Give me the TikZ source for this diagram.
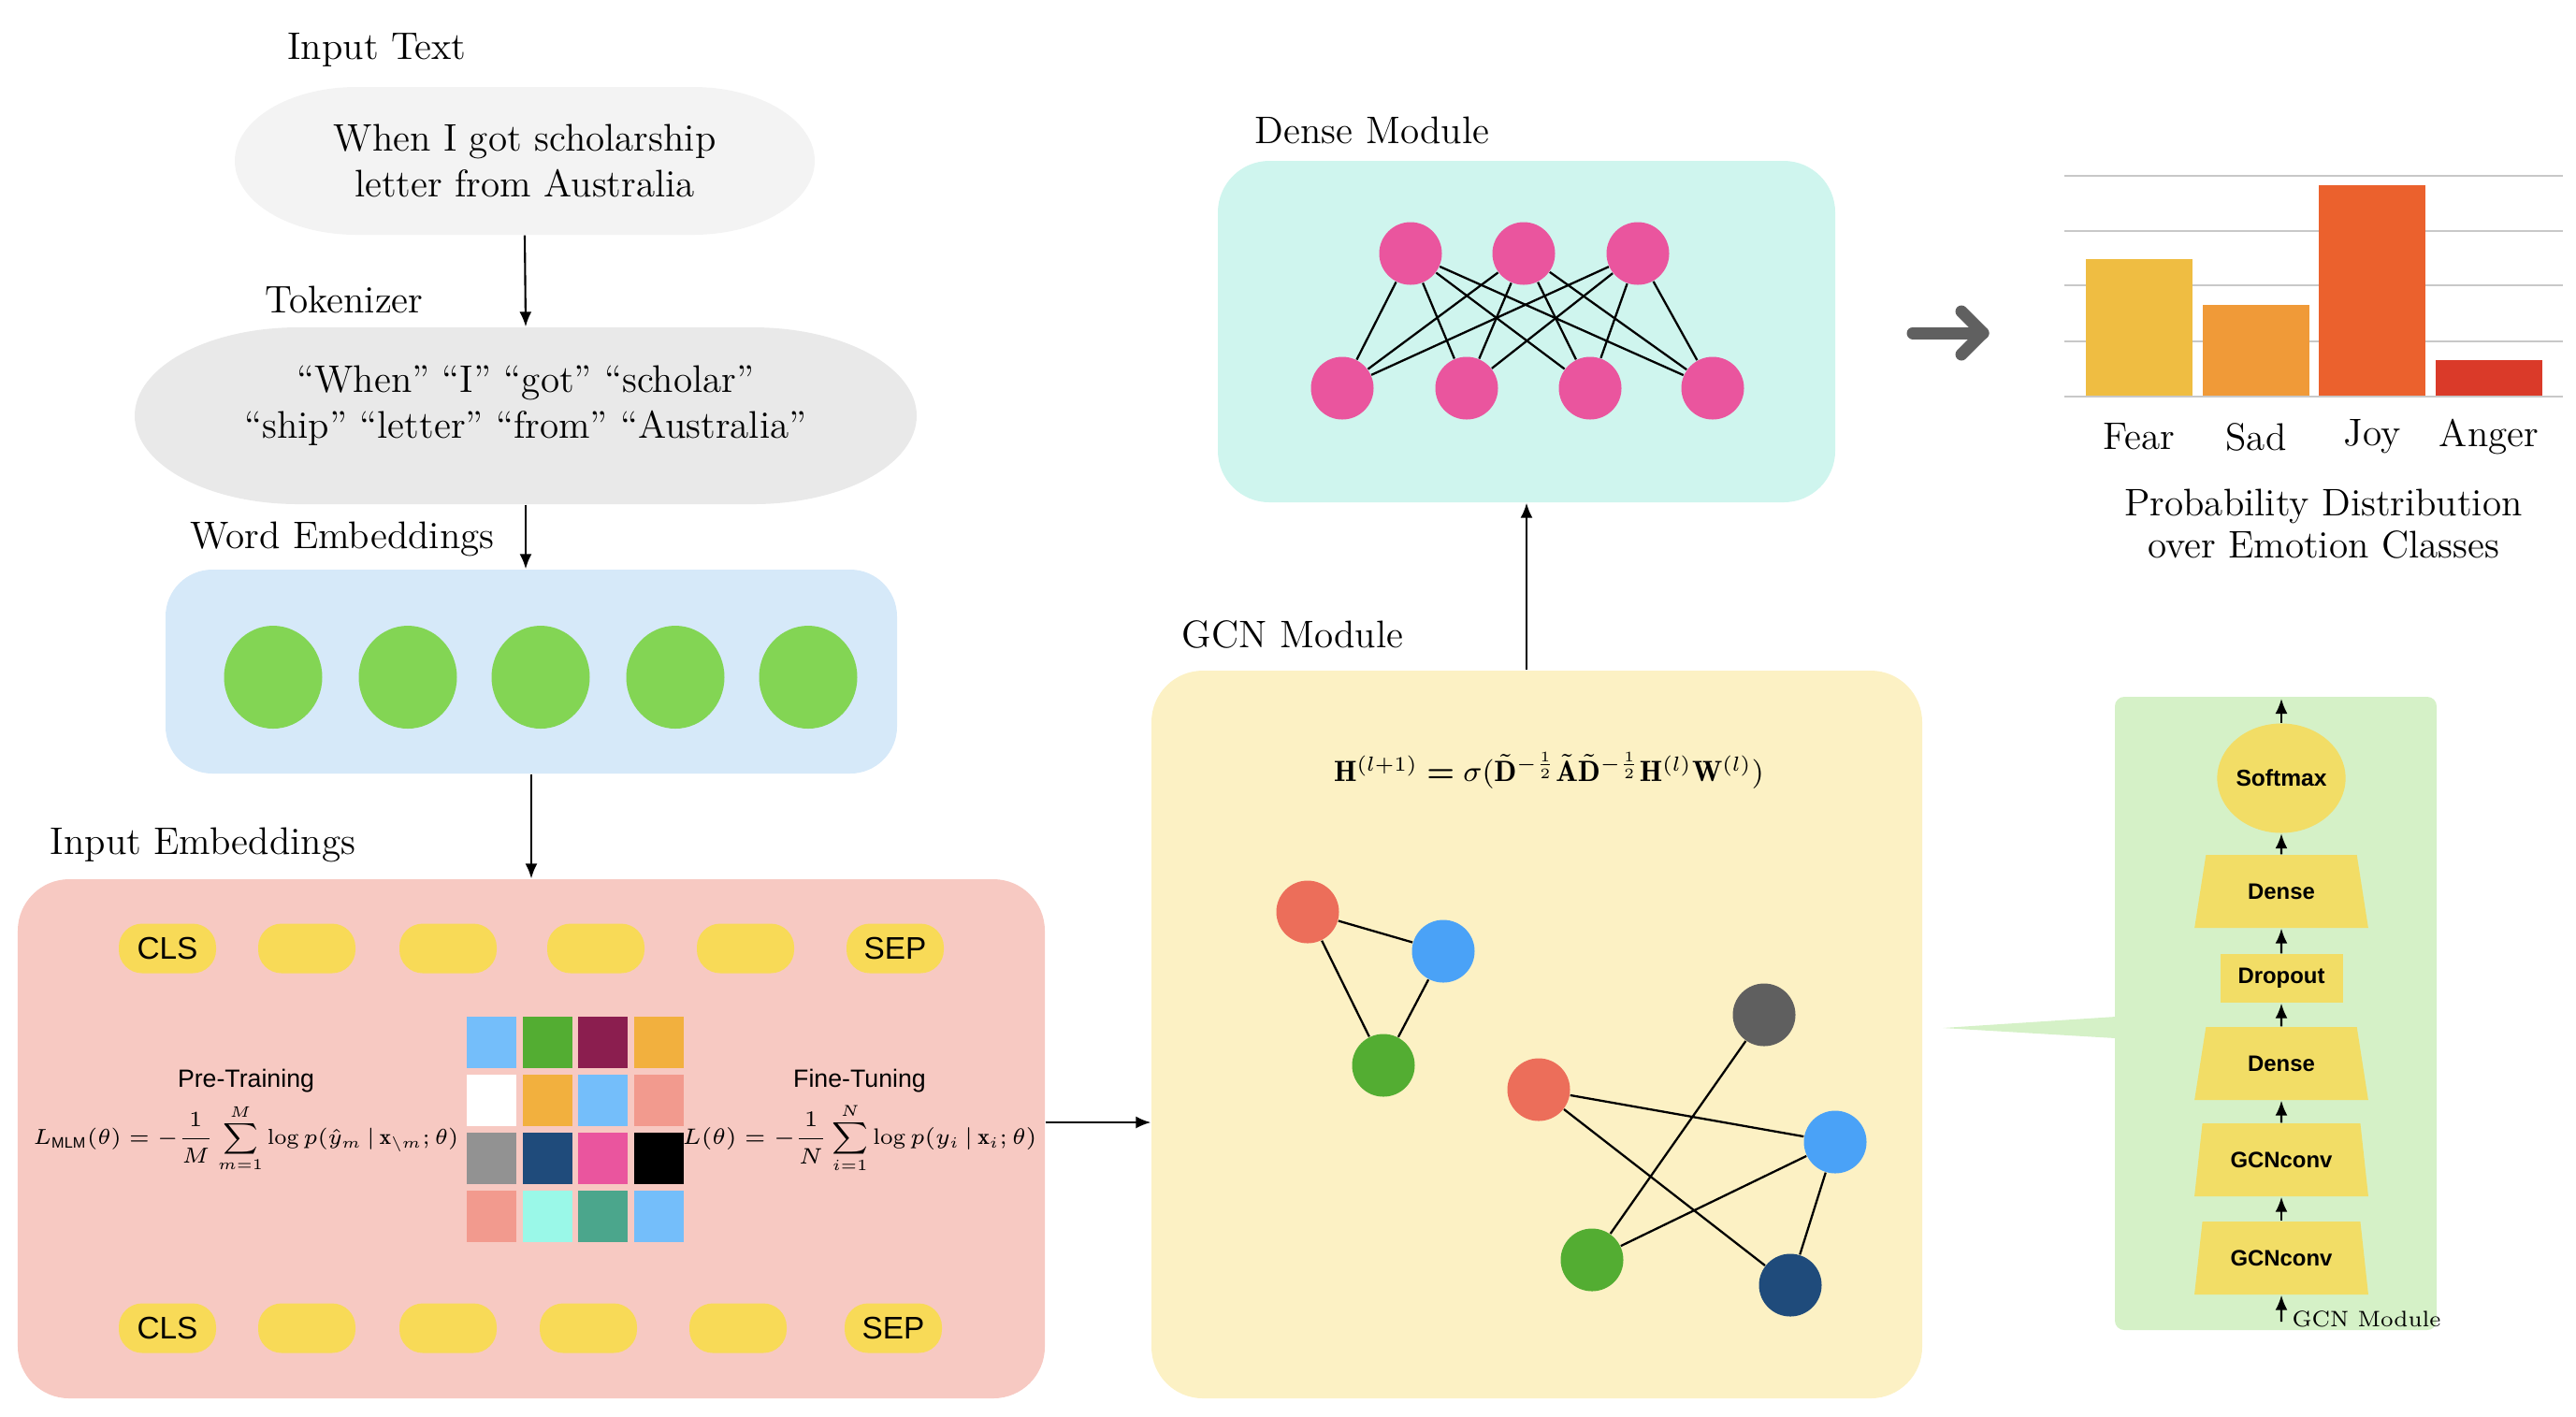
\RequirePackage{fix-cm}
\documentclass[tikz,border=0pt]{standalone}
\usepackage{amsmath}
\usepackage{fontspec}
\setsansfont{Liberation Sans}
\usetikzlibrary{positioning,shapes.geometric,arrows.meta}

\definecolor{intextgray}{HTML}{F3F3F3}
\definecolor{tokgray}{HTML}{E9E9E9}
\definecolor{weblue}{HTML}{D6E9F9}
\definecolor{wegreen}{HTML}{83D554}
\definecolor{iepink}{HTML}{F7C9C2}
\definecolor{tokyellow}{HTML}{F8DA57}
\definecolor{gcnyellow}{HTML}{FCF1C4}
\definecolor{densecyan}{HTML}{CFF5EE}
\definecolor{densepink}{HTML}{EA559E}
\definecolor{panelgreen}{HTML}{D5F1C7}
\definecolor{layeryellow}{HTML}{F2DD66}
\definecolor{arrowgray}{HTML}{606060}
\definecolor{gridgray}{HTML}{C8C8C8}
\definecolor{fearcol}{HTML}{EFBD42}
\definecolor{sadcol}{HTML}{F09A38}
\definecolor{joycol}{HTML}{EB612D}
\definecolor{angercol}{HTML}{DA3A29}
\definecolor{gred}{HTML}{EC6E5A}
\definecolor{gblue}{HTML}{4AA2F7}
\definecolor{ggreen}{HTML}{53AD32}
\definecolor{ggray}{HTML}{5F5F5F}
\definecolor{gnavy}{HTML}{1F4B7B}
\definecolor{cblue}{HTML}{74BEFA}
\definecolor{cmaroon}{HTML}{8B1E4F}
\definecolor{corange}{HTML}{F2B03E}
\definecolor{csalmon}{HTML}{F29A8E}
\definecolor{cgray}{HTML}{929292}
\definecolor{caqua}{HTML}{9AF8E8}
\definecolor{cteal}{HTML}{4BA68C}

\tikzset{
	lbl/.style={font=\fontsize{11.7}{14}\selectfont},
	bigbox/.style={rounded corners=0.55cm, inner sep=0pt},
	pill/.style={rounded corners=0.25cm, fill=tokyellow, minimum width=1.04cm, minimum height=0.53cm, inner sep=0pt, font=\sffamily\fontsize{9.5}{11}\selectfont},
	wenode/.style={ellipse, fill=wegreen, minimum width=1.05cm, minimum height=1.1cm, inner sep=0pt},
	neuron/.style={circle, fill=densepink, minimum size=0.67cm, inner sep=0pt},
	gnode/.style={circle, minimum size=0.67cm, inner sep=0pt},
	layer/.style={trapezium, trapezium angle=72, trapezium stretches=true, minimum width=1.86cm, minimum height=0.78cm, fill=layeryellow, inner sep=0pt, font=\sffamily\bfseries\fontsize{6.8}{8}\selectfont},
	losslbl/.style={inner sep=0pt, font=\sffamily\fontsize{7.6}{9}\selectfont},
	flow/.style={-{Latex[length=1.6mm,width=1.3mm]}, line width=0.6pt},
	edge/.style={line width=0.65pt},
	bigarrow/.style={arrowgray, line width=3.7pt, line cap=round, line join=round},
}

\begin{document}
\begin{tikzpicture}[scale=1]
	\useasboundingbox (0,0) rectangle (27.54,-15.14);

	% input text and tokenizer
	\fill[intextgray] (3.81,-0.93) -- (7.41,-0.93) arc[start angle=90,end angle=-90,x radius=1.30,y radius=0.79] -- (3.81,-2.51) arc[start angle=270,end angle=90,x radius=1.30,y radius=0.79] -- cycle;
	\fill[tokgray] (3.19,-3.50) -- (8.05,-3.50) arc[start angle=90,end angle=-90,x radius=1.75,y radius=0.945] -- (3.19,-5.39) arc[start angle=270,end angle=90,x radius=1.75,y radius=0.945] -- cycle;
	\node[lbl, minimum width=6.2cm, minimum height=1.58cm, align=center] (intext) at (5.61,-1.72) {When I got scholarship\\letter from Australia};
	\node[lbl, minimum width=8.36cm, minimum height=1.89cm, align=center] (token) at (5.62,-4.445) {“When” “I” “got” “scholar”\\“ship” “letter” “from” “Australia”\\[-0.2cm]};
	\node[lbl] (intextlbl) at (4.03,-0.53) {Input Text};
	\node[lbl] (toklbl) at (3.68,-3.20) {Tokenizer};
	\node[lbl] (welbl) at (3.66,-5.76) {Word Embeddings};
	\node[lbl] (ielbl) at (2.17,-9.03) {Input Embeddings};
	\node[lbl] (gcnlbl) at (13.82,-6.78) {GCN Module};
	\node[lbl] (denselbl) at (14.67,-1.39) {Dense Module};

	% module boxes
	\node[bigbox, rounded corners=0.5cm, fill=weblue, minimum width=7.82cm, minimum height=2.18cm] (webox) at (5.68,-7.18) {};
	\node[bigbox, fill=iepink, minimum width=10.98cm, minimum height=5.55cm] (iebox) at (5.68,-12.175) {};
	\node[bigbox, fill=gcnyellow, minimum width=8.24cm, minimum height=7.78cm] (gcnbox) at (16.43,-11.06) {};
	\node[bigbox, fill=densecyan, minimum width=6.60cm, minimum height=3.65cm] (densebox) at (16.32,-3.545) {};

	\draw[flow] (intext.south) -- (token.north);
	\draw[flow] (token.south) -- (token.south |- webox.north);
	\draw[flow] (webox.south) -- (iebox.north);
	\coordinate (ierow) at (0,-12.00);
	\draw[flow] (iebox.east |- ierow) -- (gcnbox.west |- ierow);
	\draw[flow] (gcnbox.north -| densebox.south) -- (densebox.south);

	% word embeddings
	\foreach \x [count=\i] in {2.92,4.36,5.78,7.22,8.64}
		\node[wenode] (w\i) at (\x,-7.24) {};

	% input embeddings
	\foreach \x/\t [count=\i] in {1.79/CLS,3.28/,4.79/,6.37/,7.97/,9.57/SEP}
		\node[pill] (tt\i) at (\x,-10.14) {\t};
	\foreach \x/\t [count=\i] in {1.79/CLS,3.28/,4.79/,6.29/,7.89/,9.55/SEP}
		\node[pill] (bt\i) at (\x,-14.20) {\t};
	\foreach \cl [count=\k from 0] in {cblue,ggreen,cmaroon,corange,white,corange,cblue,csalmon,cgray,gnavy,densepink,black,csalmon,caqua,cteal,cblue}{
		\pgfmathsetmacro{\cx}{5.255+0.595*mod(\k,4)}
		\pgfmathsetmacro{\cy}{-11.145-0.62*floor(\k/4)}
		\fill[\cl] (\cx-0.265,\cy-0.275) rectangle (\cx+0.265,\cy+0.275);
	}
	\node[losslbl] (prelbl) at (2.63,-11.56) {Pre-Training};
	\node[inner sep=0pt, font=\fontsize{6.6}{8}\selectfont] (prefml) at (2.63,-12.17) {$\displaystyle L_{\mathsf{MLM}}(\theta)=-\frac{1}{M}\sum_{m=1}^{M}\log p(\hat{y}_m\,|\,\mathbf{x}_{\backslash m};\theta)$};
	\node[losslbl] (finelbl) at (9.19,-11.56) {Fine-Tuning};
	\node[inner sep=0pt, font=\fontsize{6.8}{8}\selectfont] (finefml) at (9.19,-12.17) {$\displaystyle L(\theta)=-\frac{1}{N}\sum_{i=1}^{N}\log p(y_i\,|\,\mathbf{x}_i;\theta)$};

	% gcn module
	\node[font=\fontsize{8.9}{11}\selectfont] (gcnfml) at (16.56,-8.24) {$\mathbf{H}^{(l+1)}\boldsymbol{=}\sigma(\tilde{\mathbf{D}}^{-\frac{1}{2}}\tilde{\mathbf{A}}\tilde{\mathbf{D}}^{-\frac{1}{2}}\mathbf{H}^{(l)}\mathbf{W}^{(l)})$};
	\node[gnode, fill=gred] (r1) at (13.98,-9.75) {};
	\node[gnode, fill=gblue] (b1) at (15.43,-10.17) {};
	\node[gnode, fill=ggreen] (g1) at (14.79,-11.39) {};
	\node[gnode, fill=ggray] (k2) at (18.86,-10.85) {};
	\node[gnode, fill=gred] (r2) at (16.45,-11.65) {};
	\node[gnode, fill=gblue] (b2) at (19.62,-12.21) {};
	\node[gnode, fill=ggreen] (g2) at (17.02,-13.47) {};
	\node[gnode, fill=gnavy] (n2) at (19.14,-13.74) {};
	\draw[edge] (r1) -- (b1) (r1) -- (g1) (b1) -- (g1);
	\draw[edge] (k2) -- (g2) (r2) -- (b2) (r2) -- (n2) (b2) -- (g2) (b2) -- (n2);

	% dense module
	\foreach \x [count=\i] in {15.08,16.29,17.51}
		\node[neuron] (t\i) at (\x,-2.71) {};
	\foreach \x [count=\j] in {14.35,15.68,17.00,18.31}
		\node[neuron] (b\j) at (\x,-4.15) {};
	\foreach \i in {1,2,3}
		\foreach \j in {1,...,4}
			\draw[edge] (t\i) -- (b\j);

	% output distribution
	\coordinate (garrowA) at (20.45,-3.56);
	\coordinate (garrowB) at (21.20,-3.56);
	\draw[bigarrow] (garrowA) -- (garrowB);
	\draw[bigarrow] (20.97,-3.33) -- (garrowB) -- (20.97,-3.79);
	\foreach \y in {1.88,2.47,3.05,3.65,4.24}
		\draw[gridgray, line width=0.8pt] (22.07,-\y) -- (27.40,-\y);
	\foreach \x/\h/\barcol/\barname in {22.30/2.77/fearcol/Fear,23.55/3.26/sadcol/Sad,24.79/1.98/joycol/Joy,26.04/3.85/angercol/Anger}{
		\fill[\barcol] (\x,-4.23) rectangle (\x+1.135,-\h);
		\node[lbl] (lab\barname) at (\x+0.57,-4.67) {\barname};
	}
	\node[lbl, align=center, font=\fontsize{11.7}{12.9}\selectfont] (distlbl) at (24.84,-5.60) {Probability Distribution\\over Emotion Classes};

	% gcn module layers
	\fill[panelgreen] (20.77,-10.99) -- (22.62,-10.87) -- (22.62,-11.10) -- cycle;
	\node[fill=panelgreen, rounded corners=0.1cm, minimum width=3.44cm, minimum height=6.77cm, inner sep=0pt] (panel) at (24.33,-10.835) {};
	\node[ellipse, fill=layeryellow, minimum width=1.2cm, minimum height=1.17cm, inner sep=0pt, font=\sffamily\bfseries\fontsize{7}{8}\selectfont] (softmax) at (24.39,-8.32) {Softmax};
	\node[layer] (dense1) at (24.39,-9.53) {Dense};
	\node[fill=layeryellow, minimum width=1.31cm, minimum height=0.52cm, inner sep=0pt, font=\sffamily\bfseries\fontsize{6.8}{8}\selectfont] (dropout) at (24.39,-10.46) {Dropout};
	\node[layer] (dense2) at (24.39,-11.37) {Dense};
	\node[layer] (gconv1) at (24.39,-12.40) {GCNconv};
	\node[layer] (gconv2) at (24.39,-13.45) {GCNconv};
	\coordinate (stacktop) at (24.39,-7.47);
	\coordinate (stackbot) at (24.39,-14.13);
	\draw[flow] (stackbot) -- (gconv2.south);
	\draw[flow] (gconv2.north) -- (gconv1.south);
	\draw[flow] (gconv1.north) -- (dense2.south);
	\draw[flow] (dense2.north) -- (dropout.south);
	\draw[flow] (dropout.north) -- (dense1.south);
	\draw[flow] (dense1.north) -- (softmax.south);
	\draw[flow] (softmax.north) -- (stacktop);
	\node[font=\fontsize{6.8}{8}\selectfont] (panellbl) at (25.30,-14.10) {GCN Module};

\end{tikzpicture}
\end{document}
